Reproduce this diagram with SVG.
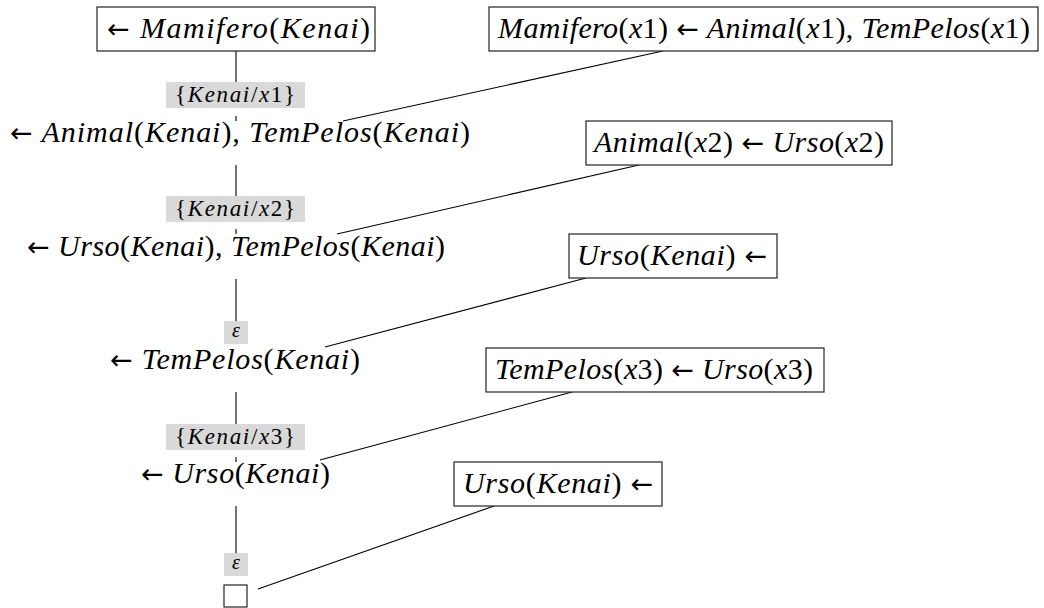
<svg xmlns="http://www.w3.org/2000/svg" width="1044" height="608" viewBox="0 0 1044 608">
<style>
.t{font-family:'Liberation Serif','DejaVu Serif',serif;font-size:30px;font-style:italic;fill:#000}
.u{font-style:normal}
.a{font-family:'DejaVu Sans',sans-serif;font-style:normal;font-size:27px}
.s{font-size:23px}
.e{font-size:20px}
.box{fill:#fff;stroke:#222;stroke-width:1.2}
.lab{fill:#d9d9d9;stroke:none}
.c{stroke:#000;stroke-width:1.1;fill:none}
</style>
<rect width="1044" height="608" fill="#fff"/>
<g id="connectors">
<path class="c" d="M236 51V82M236 116V121M236 165V196M236 229V234M236 279V321M236 392V424M236 457V462M236 506V553"/>
<path class="c" d="M663 51L343 121M639 165L337 234M586 278L325 347M572 392L320 460M494 506L258 589"/>
</g>
<g id="n0"><rect class="box" x="97" y="7" width="278" height="44"/><text class="t" x="107" y="38" textLength="263"><tspan class="a">←</tspan> Mamifero<tspan class="u">(</tspan>Kenai<tspan class="u">)</tspan></text></g>
<g id="r1"><rect class="box" x="489" y="7" width="549" height="44"/><text class="t" x="498" y="38" textLength="532">Mamifero<tspan class="u">(</tspan>x<tspan class="u">1) </tspan><tspan class="a">←</tspan> Animal<tspan class="u">(</tspan>x<tspan class="u">1), </tspan>TemPelos<tspan class="u">(</tspan>x<tspan class="u">1)</tspan></text></g>
<g id="lab1"><rect class="lab" x="166" y="82" width="139" height="26"/><text class="t s" x="175" y="102" textLength="120"><tspan class="u">{</tspan>Kenai<tspan class="u">/</tspan>x<tspan class="u">1}</tspan></text></g>
<g id="n1"><text class="t" x="10" y="142" textLength="460"><tspan class="a">←</tspan> Animal<tspan class="u">(</tspan>Kenai<tspan class="u">), </tspan>TemPelos<tspan class="u">(</tspan>Kenai<tspan class="u">)</tspan></text></g>
<g id="r2"><rect class="box" x="586" y="121" width="306" height="44"/><text class="t" x="594" y="152" textLength="290">Animal<tspan class="u">(</tspan>x<tspan class="u">2) </tspan><tspan class="a">←</tspan> Urso<tspan class="u">(</tspan>x<tspan class="u">2)</tspan></text></g>
<g id="lab2"><rect class="lab" x="166" y="196" width="139" height="26"/><text class="t s" x="175" y="216" textLength="120"><tspan class="u">{</tspan>Kenai<tspan class="u">/</tspan>x<tspan class="u">2}</tspan></text></g>
<g id="n2"><text class="t" x="27" y="256" textLength="418"><tspan class="a">←</tspan> Urso<tspan class="u">(</tspan>Kenai<tspan class="u">), </tspan>TemPelos<tspan class="u">(</tspan>Kenai<tspan class="u">)</tspan></text></g>
<g id="r3"><rect class="box" x="569" y="234" width="208" height="44"/><text class="t" x="577" y="265" textLength="190">Urso<tspan class="u">(</tspan>Kenai<tspan class="u">) </tspan><tspan class="a">←</tspan></text></g>
<g id="lab3"><rect class="lab" x="224" y="321" width="24" height="23"/><text class="t e" x="236" y="337" text-anchor="middle">ε</text></g>
<g id="n3"><text class="t" x="110" y="369" textLength="250"><tspan class="a">←</tspan> TemPelos<tspan class="u">(</tspan>Kenai<tspan class="u">)</tspan></text></g>
<g id="r4"><rect class="box" x="486" y="348" width="338" height="44"/><text class="t" x="495" y="379" textLength="318">TemPelos<tspan class="u">(</tspan>x<tspan class="u">3) </tspan><tspan class="a">←</tspan> Urso<tspan class="u">(</tspan>x<tspan class="u">3)</tspan></text></g>
<g id="lab4"><rect class="lab" x="166" y="424" width="139" height="26"/><text class="t s" x="175" y="444" textLength="120"><tspan class="u">{</tspan>Kenai<tspan class="u">/</tspan>x<tspan class="u">3}</tspan></text></g>
<g id="n4"><text class="t" x="141" y="483" textLength="189"><tspan class="a">←</tspan> Urso<tspan class="u">(</tspan>Kenai<tspan class="u">)</tspan></text></g>
<g id="r5"><rect class="box" x="454" y="462" width="208" height="44"/><text class="t" x="463" y="493" textLength="190">Urso<tspan class="u">(</tspan>Kenai<tspan class="u">) </tspan><tspan class="a">←</tspan></text></g>
<g id="lab5"><rect class="lab" x="224" y="553" width="24" height="23"/><text class="t e" x="236" y="569" text-anchor="middle">ε</text></g>
<g id="n5"><rect class="box" x="224" y="585" width="23" height="22"/></g>
</svg>
